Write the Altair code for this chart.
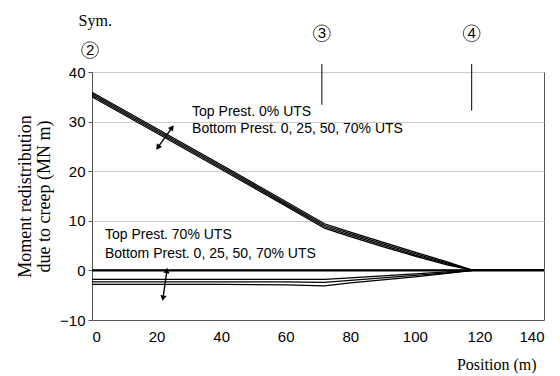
import altair as alt
import pandas as pd

# ---- data ----
pos = [0, 20, 40, 60, 72, 80, 90, 100, 110, 118, 140]
top0_b0 = [35.9, 28.6, 21.3, 13.9, 9.4, 7.7, 5.7, 3.7, 1.7, 0, 0]
top0_b25 = [35.6, 28.3, 21.0, 13.6, 9.1, 7.4, 5.4, 3.4, 1.5, 0, 0]
top0_b50 = [35.3, 28.0, 20.7, 13.3, 8.8, 7.1, 5.1, 3.1, 1.3, 0, 0]
top0_b70 = [35.0, 27.7, 20.4, 13.0, 8.5, 6.8, 4.8, 2.9, 1.1, 0, 0]
top70_b0 = [0, 0, 0, 0, 0, 0, 0, 0, 0, 0, 0]
top70_b25 = [-1.8, -1.8, -1.8, -1.8, -1.8, -1.5, -1.1, -0.7, -0.3, 0, 0]
top70_b50 = [-2.3, -2.3, -2.3, -2.3, -2.4, -2.0, -1.5, -1.0, -0.5, 0, 0]
top70_b70 = [-2.8, -2.8, -2.8, -2.9, -3.1, -2.5, -1.9, -1.3, -0.6, 0, 0]

series = {
    "T0 B0": top0_b0, "T0 B25": top0_b25, "T0 B50": top0_b50, "T0 B70": top0_b70,
    "T70 B0": top70_b0, "T70 B25": top70_b25, "T70 B50": top70_b50, "T70 B70": top70_b70,
}

rows = []
for name, vals in series.items():
    for x, y in zip(pos, vals):
        rows.append({"pos": x, "m": y, "series": name})
lines_df = pd.DataFrame(rows)

labels_text = ["Top Prest. 0% UTS", "Bottom Prest. 0, 25, 50, 70% UTS",
               "Top Prest. 70% UTS", "Bottom Prest. 0, 25, 50, 70% UTS"]
labels_x = [31, 31, 4, 4]
labels_y = [32, 28.6, 7.1, 3.3]

support_names = ["2", "3", "4"]
support_x = [-0.6, 71.2, 117.6]
support_y = [44.4, 47.8, 47.8]

ticks_x = [71.2, 117.6]
ticks_y1 = [41.6, 41.6]
ticks_y2 = [33.4, 32.2]

arrow_x1 = [20.4, 22.0]
arrow_y1 = [24.8, -5.6]
arrow_x2 = [24.8, 23.2]
arrow_y2 = [28.8, 0.0]

X = alt.Scale(domain=[0, 140], nice=False)
Y = alt.Scale(domain=[-10, 40], nice=False)

sans = "Liberation Sans"
serif = "Liberation Serif"

base_lines = alt.Chart(lines_df).mark_line(color="black", strokeWidth=1.3, clip=True).encode(
    x=alt.X("pos:Q", scale=X, axis=alt.Axis(
        values=list(range(0, 141, 20)), grid=False, title="Position (m)",
        titleFont=serif, titleFontSize=16, titleFontWeight="normal",
        titleAlign="right", titleBaseline="alphabetic", titleX=444, titleY=49,
        titleColor="black",
        labelFont=sans, labelFontSize=15, labelColor="black", labelPadding=9,
        tickSize=0, domainColor="#555")),
    y=alt.Y("m:Q", scale=Y, axis=alt.Axis(
        values=list(range(-10, 41, 10)), grid=True, gridColor="#cccccc",
        title=["Moment redistribution", "due to creep (MN m)"],
        titleFont=serif, titleFontSize=18, titleFontWeight="normal", titleColor="black",
        titleX=-76, titleY=124, titleLineHeight=19, titleBaseline="top",
        labelFont=sans, labelFontSize=15, labelColor="black", labelPadding=3,
        tickSize=4, tickColor="#555", domainColor="#555")),
    detail="series:N",
)

zero_line = alt.Chart(pd.DataFrame({"y": [0]})).mark_rule(color="black", strokeWidth=2.2).encode(
    y=alt.Y("y:Q", scale=Y))

labels_df = pd.DataFrame({"t": labels_text, "x": labels_x, "y": labels_y})
labels = alt.Chart(labels_df).mark_text(align="left", baseline="middle", font=sans,
                                         fontSize=14, color="black").encode(
    x=alt.X("x:Q", scale=X), y=alt.Y("y:Q", scale=Y), text="t:N")

sup_df = pd.DataFrame({"n": support_names, "x": support_x, "y": support_y})
sup_circ = alt.Chart(sup_df).mark_point(shape="circle", size=280, filled=False,
                                         color="black", strokeWidth=1, clip=False).encode(
    x=alt.X("x:Q", scale=X), y=alt.Y("y:Q", scale=Y))
sup_txt = alt.Chart(sup_df).mark_text(font=sans, fontSize=15, color="black",
                                       baseline="middle", clip=False).encode(
    x=alt.X("x:Q", scale=X), y=alt.Y("y:Q", scale=Y), text="n:N")

sym = alt.Chart(pd.DataFrame({"t": ["Sym."], "x": [1.0], "y": [50.3]})).mark_text(
    font=serif, fontSize=16, color="black", baseline="middle", clip=False).encode(
    x=alt.X("x:Q", scale=X), y=alt.Y("y:Q", scale=Y), text="t:N")

tk_df = pd.DataFrame({"x": ticks_x, "y1": ticks_y1, "y2": ticks_y2})
tks = alt.Chart(tk_df).mark_rule(color="black", strokeWidth=1, clip=False).encode(
    x=alt.X("x:Q", scale=X), y=alt.Y("y1:Q", scale=Y), y2="y2:Q")

ar_df = pd.DataFrame({"x1": arrow_x1, "y1": arrow_y1, "x2": arrow_x2, "y2": arrow_y2,
                      "a1": [215, 190], "a2": [35, 10]})
ar_line = alt.Chart(ar_df).mark_rule(color="black", strokeWidth=1.4).encode(
    x=alt.X("x1:Q", scale=X), y=alt.Y("y1:Q", scale=Y), x2="x2:Q", y2="y2:Q")
head1 = alt.Chart(ar_df).mark_point(shape="triangle-up", filled=True, color="black",
                                     size=40, opacity=1).encode(
    x=alt.X("x1:Q", scale=X), y=alt.Y("y1:Q", scale=Y), angle=alt.Angle("a1:Q", scale=None))
head2 = alt.Chart(ar_df).mark_point(shape="triangle-up", filled=True, color="black",
                                     size=40, opacity=1).encode(
    x=alt.X("x2:Q", scale=X), y=alt.Y("y2:Q", scale=Y), angle=alt.Angle("a2:Q", scale=None))

chart = alt.layer(base_lines, zero_line, labels, sup_circ, sup_txt, sym, tks,
                  ar_line, head1, head2).properties(
    width=452, height=248,
    autosize=alt.AutoSizeParams(type="none"),
    padding={"left": 84, "top": 64, "right": 8, "bottom": 56},
    background="white",
).configure_view(stroke="#555", strokeWidth=1)

chart.save("out.html", embed_options={"renderer": "svg", "actions": False})
